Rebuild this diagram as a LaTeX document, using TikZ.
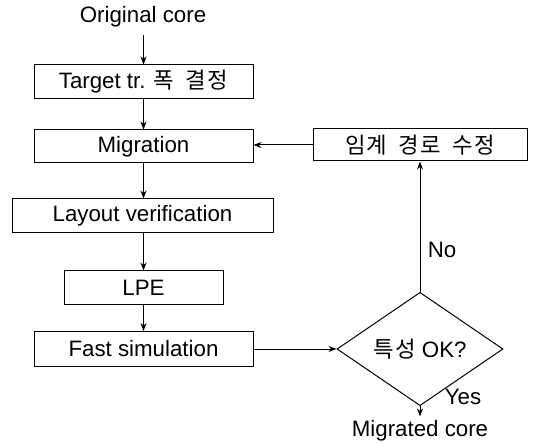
\documentclass[tikz,border=0pt]{standalone}
\usepackage{fontspec}
\setmainfont{Liberation Sans}
\newfontfamily\kr{Noto Sans CJK KR}[WordSpace=1.8,LetterSpace=6]
\usetikzlibrary{shapes.geometric,arrows.meta}
\begin{document}
\begin{tikzpicture}[x=1pt,y=-1pt,
  every node/.style={font=\fontsize{22.3}{26}\selectfont, inner sep=0pt},
  stepbox/.style={draw, line width=1pt, rectangle, minimum height=34pt},
  decision/.style={draw, line width=1pt, diamond, minimum width=166pt, minimum height=87pt},
  flow/.style={-{Stealth[length=8pt,width=6pt]}, line width=1pt}]
  \useasboundingbox (0,0) rectangle (535,443);

  % main column
  \node (orig) at (143,17) {Original core};
  \node[stepbox, minimum width=219pt] (target) at (143.5,82) {Target tr. {\kr 폭 결정}};
  \node[stepbox, minimum width=219pt, minimum height=33pt] (mig) at (143.5,146.5) {Migration};
  \node[stepbox, minimum width=261pt] (lv) at (142.5,216) {Layout verification};
  \node[stepbox, minimum width=159pt] (lpe) at (143.5,288) {LPE};
  \node[stepbox, minimum width=219pt, minimum height=35pt] (fs) at (143.5,349) {Fast simulation};

  % feedback loop
  \node[stepbox, minimum width=214pt, minimum height=32pt] (crit) at (420,145) {\kr 임계 경로 수정};
  \node[decision] (ok) at (420,349) {{\kr 특성} OK?};
  \node (out) at (420,431) {Migrated core};
  \node (no) at (442,250) {No};
  \node (yes) at (463,397) {Yes};

  % connectors
  \draw[flow] ([yshift=-7pt]orig.south -| target.north) -- (target.north);
  \draw[flow] (target.south) -- (mig.north);
  \draw[flow] (mig.south) -- (mig.south |- lv.north);
  \draw[flow] (mig.south |- lv.south) -- (lpe.north);
  \draw[flow] (lpe.south) -- (fs.north);
  \draw[flow] (fs.east) -- (ok.west);
  \draw[flow] (ok.north) -- (crit.south);
  \draw[flow] (crit.west) -- (mig.east |- crit.west);
  \draw[flow] (ok.south) -- ([yshift=4pt]out.north);
\end{tikzpicture}
\end{document}
